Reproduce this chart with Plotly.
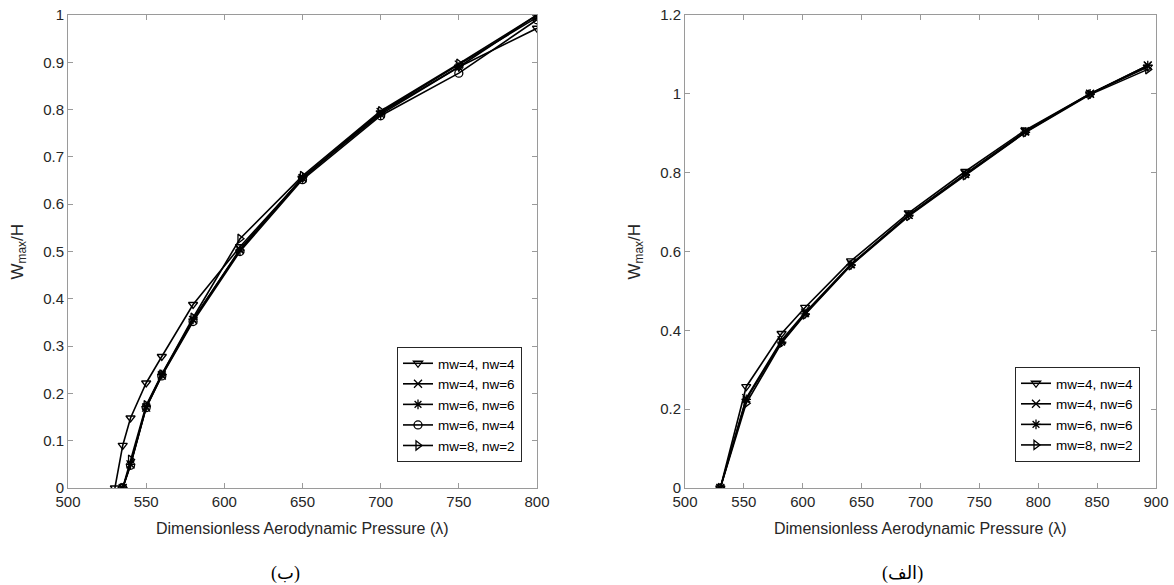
import plotly.graph_objects as go

# ---------------- data: left panel (ب) ----------------
left_x_44 = [530, 535, 540, 550, 560, 580, 610, 650, 700, 750, 800]
left_y_44 = [0, 0.09, 0.148, 0.222, 0.278, 0.388, 0.51, 0.655, 0.793, 0.89, 0.972]
left_x = [535, 540, 550, 560, 580, 610, 650, 700, 750, 800]
left_y_46 = [0, 0.05, 0.17, 0.238, 0.355, 0.505, 0.655, 0.795, 0.895, 0.995]
left_y_66 = [0, 0.05, 0.172, 0.24, 0.357, 0.503, 0.657, 0.79, 0.89, 1.0]
left_y_64 = [0, 0.048, 0.17, 0.237, 0.352, 0.5, 0.652, 0.787, 0.877, 0.99]
left_y_82 = [0, 0.06, 0.175, 0.24, 0.36, 0.527, 0.66, 0.797, 0.897, 1.0]

# ---------------- data: right panel (الف) ----------------
right_x = [530, 552, 582, 602, 641, 690, 738, 789, 844, 893]
right_y_44 = [0, 0.257, 0.392, 0.458, 0.576, 0.698, 0.803, 0.908, 1.0, 1.068]
right_y_46 = [0, 0.228, 0.375, 0.445, 0.568, 0.693, 0.797, 0.905, 1.0, 1.072]
right_y_66 = [0, 0.225, 0.37, 0.442, 0.566, 0.692, 0.795, 0.903, 1.0, 1.072]
right_y_82 = [0, 0.215, 0.368, 0.44, 0.565, 0.69, 0.793, 0.902, 0.998, 1.062]

labels = ["mw=4, nw=4", "mw=4, nw=6", "mw=6, nw=6", "mw=6, nw=4", "mw=8, nw=2"]
symbols = {
    "mw=4, nw=4": "triangle-down-open",
    "mw=4, nw=6": "x-thin-open",
    "mw=6, nw=6": "asterisk-open",
    "mw=6, nw=4": "circle-open",
    "mw=8, nw=2": "triangle-right-open",
}

x_title = "Dimensionless Aerodynamic Pressure (λ)"
y_title = "W<sub>max</sub>/H"
captions = ["(ب)", "(الف)"]

FONT = "Liberation Sans, Arial, Helvetica, sans-serif"
SERIF = "Liberation Serif, Times New Roman, DejaVu Serif, DejaVu Sans"
fig = go.Figure()

def add(x, y, label, xa, ya, leg):
    fig.add_trace(go.Scatter(
        x=x, y=y, name=label, mode="lines+markers",
        line=dict(color="black", width=1.6),
        marker=dict(symbol=symbols[label], size=8, color="black",
                    line=dict(color="black", width=1.3)),
        xaxis=xa, yaxis=ya, legend=leg,
    ))

add(left_x_44, left_y_44, labels[0], "x", "y", "legend")
add(left_x, left_y_46, labels[1], "x", "y", "legend")
add(left_x, left_y_66, labels[2], "x", "y", "legend")
add(left_x, left_y_64, labels[3], "x", "y", "legend")
add(left_x, left_y_82, labels[4], "x", "y", "legend")

add(right_x, right_y_44, labels[0], "x2", "y2", "legend2")
add(right_x, right_y_46, labels[1], "x2", "y2", "legend2")
add(right_x, right_y_66, labels[2], "x2", "y2", "legend2")
add(right_x, right_y_82, labels[4], "x2", "y2", "legend2")

W, H = 1174, 585
ydom = [1 - 488 / H, 1 - 15 / H]
xdom1 = [68 / W, 537 / W]
xdom2 = [685 / W, 1156 / W]

axis_common = dict(
    showline=True, linecolor="#9a9a9a", linewidth=1, mirror="ticks",
    ticks="inside", ticklen=5, tickcolor="#9a9a9a", showgrid=False,
    zeroline=False, automargin=False,
    tickfont=dict(family=FONT, size=15, color="#262626"),
)

legend_common = dict(
    xanchor="right", yanchor="bottom",
    bgcolor="white", bordercolor="#262626", borderwidth=1,
    font=dict(family=FONT, size=13.5, color="black"),
    itemwidth=30, tracegroupgap=0,
)

annotations = []
for dom in (xdom1, xdom2):
    cx = (dom[0] + dom[1]) / 2
    annotations.append(dict(text=x_title, x=cx, y=1 - 528 / H, xref="paper", yref="paper",
                            xanchor="center", yanchor="middle", showarrow=False,
                            font=dict(family=FONT, size=16, color="#262626")))
    annotations.append(dict(text=y_title, x=dom[0] - 50 / W, y=(ydom[0] + ydom[1]) / 2,
                            xref="paper", yref="paper", textangle=-90, showarrow=False,
                            xanchor="center", yanchor="middle",
                            font=dict(family=FONT, size=17, color="#262626")))
annotations.append(dict(text=captions[0], x=285 / W, y=1 - 573 / H, xref="paper", yref="paper",
                        xanchor="center", yanchor="middle", showarrow=False,
                        font=dict(family=SERIF, size=18, color="black")))
annotations.append(dict(text=captions[1], x=902 / W, y=1 - 573 / H, xref="paper", yref="paper",
                        xanchor="center", yanchor="middle", showarrow=False,
                        font=dict(family=SERIF, size=18, color="black")))

fig.update_layout(
    width=W, height=H,
    margin=dict(l=0, r=0, t=0, b=0, autoexpand=False),
    paper_bgcolor="white", plot_bgcolor="white",
    font=dict(family=FONT, color="#262626"),
    xaxis=dict(domain=xdom1, range=[500, 800], dtick=50, anchor="y", **axis_common),
    yaxis=dict(domain=ydom, range=[0, 1], dtick=0.1, anchor="x", **axis_common),
    xaxis2=dict(domain=xdom2, range=[500, 900], dtick=50, anchor="y2", **axis_common),
    yaxis2=dict(domain=ydom, range=[0, 1.2], dtick=0.2, anchor="x2", **axis_common),
    legend=dict(x=522 / W, y=1 - 462 / H, **legend_common),
    legend2=dict(x=1140 / W, y=1 - 462 / H, **legend_common),
    showlegend=True,
    annotations=annotations,
)

fig.write_html("out.html",
               config={"displayModeBar": False},
               post_script="document.body.style.margin='0px';document.body.style.padding='0px';")
